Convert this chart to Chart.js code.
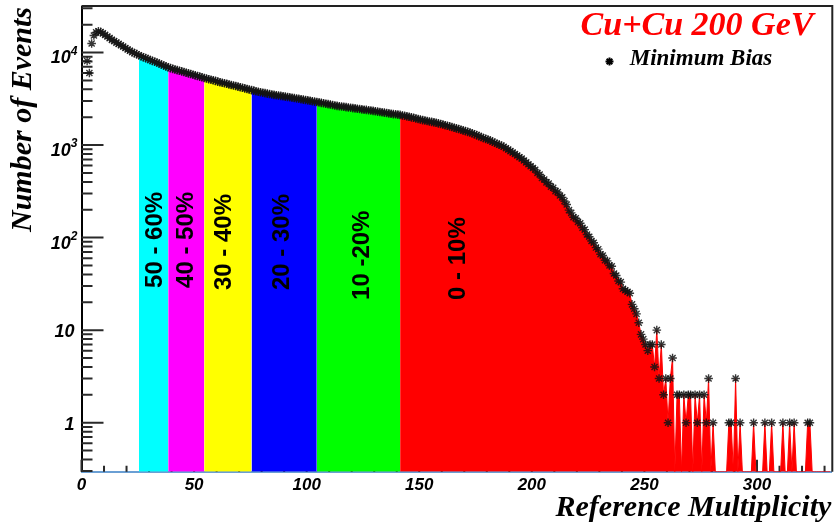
<!DOCTYPE html>
<html>
<head>
<meta charset="utf-8">
<title>Cu+Cu 200 GeV reference multiplicity</title>
<script src="https://cdn.jsdelivr.net/npm/chart.js@4.4.1/dist/chart.umd.min.js"></script>
<style>
  html, body { margin: 0; padding: 0; background: #ffffff; }
  #wrap { width: 837px; height: 529px; }
</style>
</head>
<body>
<div id="wrap"><canvas id="refmult" width="837" height="529"></canvas></div>
<script>
// Reference multiplicity histogram, 1 unit per bin, bin i covers [i, i+1)
const binStart = 0;
const binWidth = 1;
const eventCounts = [
  0, 0, 8100, 6000, 12500, 15300, 16500, 17000, 16700, 16100,
  15500, 14900, 14300, 13700, 13300, 12800, 12400, 12000, 11600, 11200,
  10800, 10450, 10100, 9850, 9600, 9350, 9100, 8900, 8700, 8500,
  8300, 8120, 7950, 7800, 7600, 7420, 7250, 7080, 6920, 6780,
  6660, 6550, 6450, 6350, 6250, 6150, 6050, 5950, 5850, 5760,
  5670, 5580, 5490, 5400, 5310, 5230, 5150, 5080, 5010, 4940,
  4850, 4780, 4710, 4650, 4590, 4520, 4460, 4400, 4340, 4280,
  4220, 4160, 4100, 4040, 3980, 3920, 3870, 3820, 3770, 3720,
  3680, 3640, 3600, 3560, 3520, 3490, 3460, 3430, 3400, 3370,
  3340, 3310, 3280, 3250, 3220, 3190, 3160, 3130, 3100, 3070,
  3040, 3010, 2980, 2950, 2920, 2890, 2860, 2830, 2800, 2770,
  2740, 2710, 2680, 2650, 2630, 2610, 2590, 2570, 2550, 2530,
  2510, 2490, 2470, 2450, 2430, 2410, 2400, 2380, 2360, 2340,
  2320, 2300, 2280, 2260, 2240, 2220, 2200, 2180, 2160, 2150,
  2130, 2120, 2090, 2070, 2040, 2020, 1990, 1970, 1940, 1910,
  1890, 1860, 1840, 1820, 1800, 1780, 1760, 1740, 1715, 1690,
  1665, 1640, 1615, 1590, 1565, 1540, 1515, 1490, 1465, 1440,
  1415, 1390, 1365, 1340, 1310, 1280, 1250, 1220, 1190, 1165,
  1150, 1120, 1090, 1060, 1035, 1010, 990, 960, 925, 895,
  860, 830, 800, 770, 740, 715, 680, 650, 620, 590,
  565, 540, 500, 480, 440, 425, 395, 385, 355, 345,
  318, 310, 285, 272, 248, 228, 198, 185, 166, 162,
  148, 143, 128, 122, 108, 102, 92, 88, 78, 75,
  66, 64, 57, 56, 50, 49, 41, 39, 34, 33,
  28, 27, 26, 25, 19, 17, 15, 12, 9, 8,
  7, 6, 7, 7, 4, 10, 3, 7, 2, 3,
  1, 3, 5, 0, 2, 2, 0, 2, 1, 2,
  2, 0, 2, 1, 2, 0, 2, 1, 3, 0,
  1, 0, 0, 0, 0, 0, 0, 1, 1, 0,
  3, 0, 1, 0, 0, 0, 0, 0, 1, 0,
  0, 0, 0, 1, 0, 0, 1, 0, 0, 0,
  0, 1, 0, 0, 1, 0, 1, 0, 0, 0,
  0, 0, 1, 1, 0, 0, 0, 0, 0, 0,
  0, 0, 0
];

// Centrality classes: first and last bin of each shaded band
const centralityNames = ['50 - 60%', '40 - 50%', '30 - 40%', '20 - 30%', '10 -20%', '0 - 10%'];
const centralityFirstBin = [25, 38, 54, 75, 104, 141];
const centralityLastBin  = [38, 54, 75, 104, 141, 332];

// Axis ranges and tick labels
const xRange = [0, 333];
const yRange = [0.2953, 31040];
const yDecades = [0, 1, 2, 3, 4];
const xTickStep = 50;

// Styling (kept apart from the values above)
const bandColors = ['#00ffff', '#ff00ff', '#ffff00', '#0000ff', '#00ff00', '#ff0000'];
const bandLabelAnchors = [   // [x in units, y value where the rotated text starts]
  [32.6, 28.6], [46.6, 28.6], [63.3, 27.1], [89.4, 27.1], [124.9, 21.2], [167.4, 21.2]
];

const binCenter = i => binStart + (i + 0.5) * binWidth;
// empty bins are drawn down on the floor of the log axis
const floorValue = v => (v > 0 ? v : yRange[0]);

const bandDatasets = centralityNames.map((name, k) => {
  const pts = [];
  for (let i = centralityFirstBin[k]; i <= centralityLastBin[k]; i++) {
    pts.push({ x: binCenter(i), y: floorValue(eventCounts[i]) });
  }
  return {
    label: name,
    data: pts,
    borderColor: bandColors[k],
    backgroundColor: bandColors[k],
    borderWidth: 1,
    pointRadius: 0,
    fill: 'start',
    tension: 0
  };
});

const markerPoints = [];
eventCounts.forEach((v, i) => { if (v > 0) markerPoints.push({ x: binCenter(i), y: v }); });

const markerDataset = {
  label: 'Minimum Bias',
  data: markerPoints,
  showLine: false,
  pointStyle: 'star',
  pointRadius: 4.3,
  pointBorderColor: 'rgba(20,20,20,0.85)',
  pointBorderWidth: 1.4,
  pointBackgroundColor: '#1a1a1a'
};

const sansBI = size => `italic bold ${size}px "Liberation Sans", Arial, sans-serif`;
const serifBI = size => `italic bold ${size}px "Liberation Serif", "Times New Roman", serif`;

// Tick marks pointing into the frame (drawn under the histogram, as the fills cover them)
const innerTicks = {
  id: 'innerTicks',
  beforeDatasetsDraw(chart) {
    const { ctx, chartArea: a, scales: { x, y } } = chart;
    ctx.save();
    ctx.strokeStyle = '#2a2a2a';
    ctx.lineWidth = 2;
    ctx.beginPath();
    for (let e = -1; e <= 5; e++) {
      for (let m = 1; m <= 9; m++) {
        const v = m * Math.pow(10, e);
        if (v < y.min || v > y.max) continue;
        const py = y.getPixelForValue(v);
        const len = m === 1 ? 22 : 11;
        ctx.moveTo(a.left, py);
        ctx.lineTo(a.left + len, py);
      }
    }
    for (let v = x.min; v <= x.max; v += 10) {
      const px = x.getPixelForValue(v);
      const len = v % xTickStep === 0 ? 12 : 6;
      ctx.moveTo(px, a.bottom);
      ctx.lineTo(px, a.bottom - len);
    }
    ctx.stroke();
    ctx.restore();
  }
};

// Frame top/right, y tick labels with exponents, band captions, legend text
const decorations = {
  id: 'decorations',
  afterDraw(chart) {
    const { ctx, chartArea: a, scales: { x, y } } = chart;
    ctx.save();

    // frame
    ctx.strokeStyle = '#222';
    ctx.lineWidth = 2;
    ctx.beginPath();
    ctx.moveTo(a.left, a.top - 1);
    ctx.lineTo(a.right + 1, a.top - 1);
    ctx.lineTo(a.right + 1, a.bottom);
    ctx.stroke();

    // y tick labels
    ctx.fillStyle = '#000';
    ctx.textAlign = 'right';
    ctx.textBaseline = 'middle';
    const rightEdge = a.left - 4;
    yDecades.forEach(d => {
      const py = y.getPixelForValue(Math.pow(10, d));
      if (d <= 1) {
        ctx.font = sansBI(18);
        ctx.fillText(String(Math.pow(10, d)), rightEdge - 3, py + 2);
      } else {
        ctx.font = sansBI(12);
        const exp = String(d);
        const ew = ctx.measureText(exp).width;
        ctx.fillText(exp, rightEdge, py - 1);
        ctx.font = sansBI(18);
        ctx.fillText('10', rightEdge - ew, py + 6);
      }
    });

    // centrality captions, rotated to read upwards
    ctx.font = 'bold 24px "Liberation Sans", Arial, sans-serif';
    ctx.textAlign = 'left';
    ctx.textBaseline = 'middle';
    ctx.fillStyle = '#000';
    centralityNames.forEach((name, k) => {
      const px = x.getPixelForValue(bandLabelAnchors[k][0]);
      const py = y.getPixelForValue(bandLabelAnchors[k][1]);
      ctx.save();
      ctx.translate(px, py);
      ctx.rotate(-Math.PI / 2);
      ctx.fillText(name, 0, 0);
      ctx.restore();
    });

    // legend block
    ctx.textAlign = 'center';
    ctx.textBaseline = 'alphabetic';
    ctx.fillStyle = '#ff0000';
    ctx.font = serifBI(34);
    ctx.fillText('Cu+Cu 200 GeV', 697, 35);
    ctx.fillStyle = '#000';
    ctx.font = serifBI(23);
    ctx.fillText('Minimum Bias', 701, 65);
    ctx.strokeStyle = '#000';
    Chart.helpers.drawPoint(ctx, {
      pointStyle: 'star', radius: 4, borderWidth: 1.2, rotation: 0
    }, 609.5, 61.5);
    ctx.restore();
  }
};

Chart.defaults.font.family = '"Liberation Sans", Arial, sans-serif';

new Chart(document.getElementById('refmult'), {
  type: 'line',
  data: { datasets: [markerDataset, ...bandDatasets] },
  options: {
    responsive: false,
    animation: false,
    devicePixelRatio: 1,
    layout: { padding: { top: 7, right: 4.3, left: 0, bottom: 0 } },
    plugins: {
      legend: { display: false },
      tooltip: { enabled: false }
    },
    scales: {
      x: {
        type: 'linear',
        min: xRange[0],
        max: xRange[1],
        grid: { display: false, drawTicks: false },
        border: { display: true, color: '#6a9fd4', width: 2 },
        ticks: {
          stepSize: xTickStep,
          includeBounds: false,
          maxRotation: 0,
          autoSkip: false,
          padding: 3,
          color: '#000',
          font: { family: '"Liberation Sans", Arial, sans-serif', size: 17, weight: 'bold', style: 'italic' },
          callback: v => (v % xTickStep === 0 ? String(v) : '')
        },
        title: {
          display: true,
          text: 'Reference Multiplicity',
          align: 'end',
          color: '#000',
          padding: { top: 0, bottom: 3 },
          font: { family: '"Liberation Serif", "Times New Roman", serif', size: 30, weight: 'bold', style: 'italic' }
        },
        afterFit: s => { s.height = 57.3; }
      },
      y: {
        type: 'logarithmic',
        min: yRange[0],
        max: yRange[1],
        grid: { display: false, drawTicks: false },
        border: { display: true, color: '#000', width: 2 },
        ticks: { display: false },
        title: {
          display: true,
          text: 'Number of Events',
          align: 'end',
          color: '#000',
          padding: { top: 5, bottom: 0 },
          font: { family: '"Liberation Serif", "Times New Roman", serif', size: 30, weight: 'bold', style: 'italic' }
        },
        afterFit: s => { s.width = 81.5; }
      }
    }
  },
  plugins: [innerTicks, decorations]
});
</script>
</body>
</html>
